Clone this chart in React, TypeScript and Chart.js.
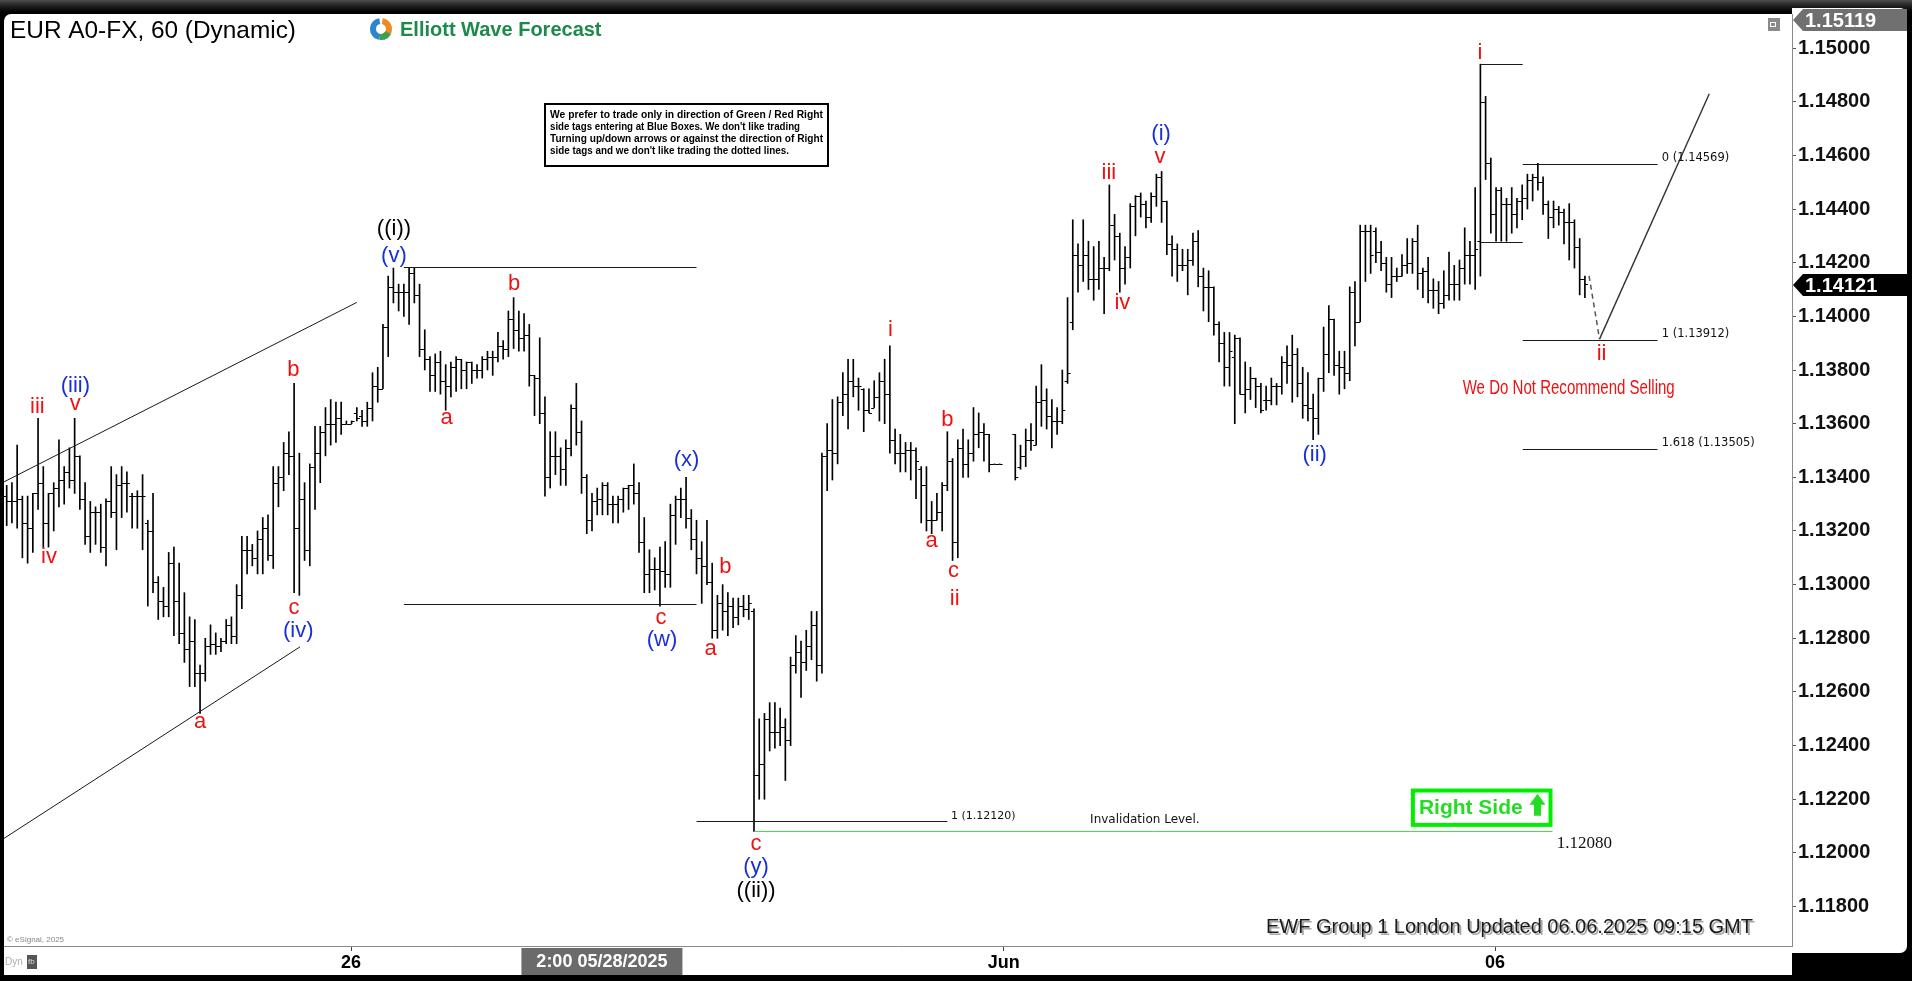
import React, { useEffect, useRef } from 'react';
import { Chart, registerables } from 'chart.js';

Chart.register(...registerables);

const W = 1912;
const H = 981;
const FONT = '"Liberation Sans", Arial, Helvetica, sans-serif';
const SERIF = '"Liberation Serif", "Times New Roman", serif';
const SMALL = '"DejaVu Sans", Verdana, Tahoma, sans-serif';
const RED = '#ee1111';
const BLUE = '#1a2fd6';
const BLACK = '#000000';
const GREEN = '#22dd22';

// ---------------- OHLC data (hourly bars, index 0 = first bar) ----------------
const highs: (number | null)[] = [
  1.1337,1.1338,1.1352,1.1333,1.1333,1.1334,1.1362,1.1344,1.1334,1.1338,
  1.1354,1.1344,1.1351,1.1362,1.1348,1.1338,1.1331,1.1329,1.1330,1.1332,
  1.1344,1.1341,1.1344,1.1342,1.1334,1.1335,1.1341,1.1324,1.1334,1.1303,
  1.1299,1.1312,1.1314,1.1308,1.1297,1.1288,1.1287,1.1270,1.1280,1.1285,
  1.1282,1.1280,1.1287,1.1288,1.1300,1.1318,1.1318,1.1315,1.1320,1.1325,
  1.1326,1.1344,1.1344,1.1353,1.1357,1.1375,1.1349,1.1338,1.1345,1.1359,
  1.1359,1.1366,1.1369,1.1368,1.1368,1.1361,1.1361,1.1366,1.1365,1.1368,
  1.1379,1.1381,1.1397,1.1415,1.1418,1.1412,1.1412,1.1418,1.1418,1.1412,
  1.1395,1.1385,1.1386,1.1387,1.1382,1.1383,1.1385,1.1384,1.1383,1.1383,
  1.1382,1.1385,1.1387,1.1387,1.1394,1.1391,1.1402,1.1407,1.1402,1.1401,
  1.1397,1.1378,1.1392,1.1370,1.1357,1.1357,1.1351,1.1354,1.1367,1.1375,
  1.1361,1.1341,1.1334,1.1336,1.1338,1.1338,1.1333,1.1333,1.1336,1.1337,
  1.1345,1.1338,1.1325,1.1313,1.1310,1.1314,1.1316,1.1330,1.1333,1.1336,
  1.1340,1.1328,1.1324,1.1316,1.1324,1.1308,1.1296,1.1300,1.1297,1.1295,
  1.1295,1.1296,1.1296,1.1291,1.1250,1.1252,1.1256,1.1256,1.1254,1.1250,
  1.1273,1.1281,1.1279,1.1283,1.1290,1.1290,1.1349,1.1360,1.1369,1.1370,
  1.1379,1.1384,1.1384,1.1377,1.1373,1.1373,1.1376,1.1379,1.1384,1.1389,
  1.1358,1.1356,1.1353,1.1353,1.1351,1.1344,1.1344,1.1331,1.1334,1.1338,
  1.1357,1.1347,1.1354,1.1358,1.1354,1.1366,1.1364,1.1360,1.1356,1.1345,
  1.1345,null,null,1.1356,1.1352,1.1358,1.1360,1.1374,1.1382,1.1373,
  1.1369,1.1366,1.1380,1.1407,1.1436,1.1427,1.1436,1.1428,1.1426,1.1428,
  1.1422,1.1449,1.1438,1.1431,1.1426,1.1442,1.1445,1.1446,1.1443,1.1446,
  1.1453,1.1454,1.1443,1.1430,1.1427,1.1425,1.1425,1.1431,1.1432,1.1418,
  1.1417,1.1411,1.1398,1.1394,1.1394,1.1393,1.1392,1.1383,1.1381,1.1377,
  1.1375,1.1374,1.1377,1.1375,1.1385,1.1389,1.1393,1.1388,1.1381,1.1379,
  1.1371,1.1377,1.1396,1.1404,1.1399,1.1387,1.1387,1.1411,1.1413,1.1434,
  1.1434,1.1434,1.1433,1.1428,1.1422,1.1422,1.1418,1.1423,1.1429,1.1429,
  1.1434,1.1418,1.1422,1.1414,1.1413,1.1417,1.1424,1.1419,1.1421,1.1433,
  1.1428,1.1448,1.1494,1.1482,1.1459,1.1448,1.1448,1.1444,1.1448,1.1444,
  1.1449,1.1453,1.1453,1.1457,1.1452,1.1443,1.1443,1.1441,1.1440,1.1442,
  1.1436,1.1429,1.1415,
];

const lows: (number | null)[] = [
  1.1322,1.1323,1.1321,1.1310,1.1308,1.1312,1.1328,1.1314,1.1314,1.1320,
  1.1329,1.1330,1.1336,1.1334,1.1328,1.1315,1.1312,1.1315,1.1312,1.1307,
  1.1325,1.1313,1.1325,1.1327,1.1321,1.1321,1.1313,1.1292,1.1297,1.1287,
  1.1288,1.1288,1.1281,1.1278,1.1271,1.1262,1.1262,1.1252,1.1264,1.1274,
  1.1274,1.1275,1.1278,1.1278,1.1278,1.1291,1.1304,1.1307,1.1304,1.1304,
  1.1309,1.1306,1.1329,1.1335,1.1341,1.1297,1.1296,1.1309,1.1307,1.1328,
  1.1338,1.1348,1.1352,1.1353,1.1356,1.1360,1.1360,1.1361,1.1359,1.1359,
  1.1361,1.1368,1.1373,1.1385,1.1405,1.1402,1.1400,1.1397,1.1405,1.1385,
  1.1380,1.1372,1.1372,1.1371,1.1365,1.1370,1.1372,1.1373,1.1373,1.1375,
  1.1377,1.1377,1.1380,1.1378,1.1383,1.1384,1.1385,1.1388,1.1387,1.1387,
  1.1374,1.1363,1.1360,1.1333,1.1336,1.1341,1.1337,1.1337,1.1348,1.1352,
  1.1334,1.1319,1.1320,1.1326,1.1326,1.1326,1.1323,1.1323,1.1327,1.1328,
  1.1330,1.1312,1.1297,1.1297,1.1298,1.1292,1.1299,1.1299,1.1315,1.1325,
  1.1321,1.1313,1.1304,1.1293,1.1300,1.1280,1.1280,1.1283,1.1281,1.1284,
  1.1285,1.1288,1.1287,1.1208,1.1220,1.1220,1.1238,1.1239,1.1240,1.1227,
  1.1240,1.1267,1.1258,1.1268,1.1272,1.1264,1.1267,1.1335,1.1339,1.1345,
  1.1363,1.1358,1.1370,1.1365,1.1357,1.1364,1.1366,1.1361,1.1360,1.1349,
  1.1345,1.1342,1.1342,1.1339,1.1332,1.1323,1.1320,1.1319,1.1324,1.1320,
  1.1335,1.1309,1.1310,1.1340,1.1340,1.1346,1.1351,1.1346,1.1342,1.1345,
  1.1345,null,null,1.1339,1.1343,1.1344,1.1350,1.1352,1.1359,1.1358,
  1.1351,1.1356,1.1360,1.1375,1.1395,1.1409,1.1413,1.1410,1.1406,1.1410,
  1.1401,1.1417,1.1421,1.1409,1.1412,1.1418,1.1430,1.1437,1.1433,1.1435,
  1.1441,1.1435,1.1423,1.1415,1.1413,1.1417,1.1408,1.1419,1.1411,1.1402,
  1.1398,1.1393,1.1383,1.1374,1.1374,1.1360,1.1371,1.1364,1.1369,1.1366,
  1.1364,1.1365,1.1367,1.1367,1.1371,1.1375,1.1368,1.1370,1.1362,1.1361,
  1.1354,1.1356,1.1372,1.1379,1.1378,1.1371,1.1373,1.1376,1.1389,1.1398,
  1.1413,1.1416,1.1420,1.1417,1.1409,1.1407,1.1413,1.1415,1.1416,1.1416,
  1.1410,1.1407,1.1405,1.1403,1.1401,1.1403,1.1406,1.1406,1.1406,1.1412,
  1.1412,1.1410,1.1415,1.1451,1.1431,1.1428,1.1428,1.1428,1.1431,1.1433,
  1.1436,1.1440,1.1443,1.1447,1.1438,1.1429,1.1433,1.1434,1.1427,1.1421,
  1.1418,1.1408,1.1407,
];

const opens: (number | null)[] = [
  1.1333,1.1331,1.1331,1.1332,1.1323,1.1321,1.1334,1.1338,1.1323,1.1334,
  1.1336,1.1339,1.1342,1.1339,1.1348,1.1332,1.1318,1.1327,1.1327,1.1314,
  1.1331,1.1327,1.1337,1.1338,1.1333,1.1333,1.1333,1.1323,1.1320,1.1301,
  1.1294,1.1292,1.1308,1.1294,1.1282,1.1276,1.1279,1.1267,1.1267,1.1277,
  1.1278,1.1277,1.1279,1.1285,1.1281,1.1296,1.1313,1.1313,1.1310,1.1317,
  1.1321,1.1311,1.1338,1.1340,1.1349,1.1348,1.1321,1.1332,1.1313,1.1344,
  1.1349,1.1357,1.1360,1.1360,1.1362,1.1360,1.1360,1.1364,1.1363,1.1361,
  1.1366,1.1374,1.1373,1.1396,1.1411,1.1409,1.1409,1.1409,1.1416,1.1408,
  1.1388,1.1384,1.1378,1.1383,1.1376,1.1374,1.1381,1.1384,1.1380,1.1383,
  1.1380,1.1380,1.1384,1.1385,1.1385,1.1389,1.1388,1.1399,1.1395,1.1392,
  1.1393,1.1378,1.1377,1.1364,1.1340,1.1348,1.1348,1.1343,1.1351,1.1366,
  1.1357,1.1340,1.1324,1.1331,1.1332,1.1337,1.1330,1.1330,1.1332,1.1336,
  1.1337,1.1334,1.1316,1.1304,1.1306,1.1306,1.1305,1.1304,1.1326,1.1332,
  1.1332,1.1325,1.1317,1.1310,1.1307,1.1301,1.1283,1.1293,1.1290,1.1292,
  1.1288,1.1292,1.1291,1.1290,1.1229,1.1233,1.1250,1.1245,1.1245,1.1247,
  1.1242,1.1270,1.1275,1.1271,1.1277,1.1285,1.1270,1.1348,1.1350,1.1349,
  1.1368,1.1371,1.1376,1.1374,1.1373,1.1365,1.1366,1.1370,1.1376,1.1371,
  1.1354,1.1349,1.1349,1.1350,1.1350,1.1343,1.1337,1.1324,1.1324,1.1327,
  1.1337,1.1346,1.1316,1.1351,1.1345,1.1349,1.1356,1.1357,1.1356,1.1345,
  1.1345,null,null,1.1356,1.1344,1.1348,1.1354,1.1352,1.1368,1.1369,
  1.1363,1.1361,1.1361,1.1376,1.1398,1.1423,1.1419,1.1423,1.1414,1.1414,
  1.1418,1.1418,1.1434,1.1430,1.1418,1.1422,1.1441,1.1445,1.1442,1.1437,
  1.1445,1.1452,1.1443,1.1427,1.1425,1.1419,1.1419,1.1421,1.1428,1.1415,
  1.1411,1.1411,1.1397,1.1390,1.1381,1.1385,1.1392,1.1371,1.1373,1.1377,
  1.1374,1.1369,1.1369,1.1374,1.1374,1.1383,1.1382,1.1386,1.1375,1.1367,
  1.1366,1.1362,1.1377,1.1386,1.1399,1.1382,1.1381,1.1379,1.1409,1.1398,
  1.1432,1.1432,1.1432,1.1424,1.1420,1.1412,1.1415,1.1415,1.1419,1.1420,
  1.1428,1.1416,1.1417,1.1410,1.1410,1.1405,1.1408,1.1412,1.1412,1.1418,
  1.1423,1.1423,1.1428,1.1480,1.1457,1.1438,1.1447,1.1442,1.1442,1.1438,
  1.1443,1.1444,1.1451,1.1452,1.1450,1.1442,1.1437,1.1440,1.1439,1.1435,
  1.1435,1.1426,1.1414,
];

const closes: (number | null)[] = [
  1.1331,1.1331,1.1332,1.1323,1.1321,1.1334,1.1338,1.1323,1.1334,1.1336,
  1.1339,1.1342,1.1339,1.1348,1.1332,1.1318,1.1327,1.1327,1.1314,1.1331,
  1.1327,1.1337,1.1338,1.1338,1.1333,1.1333,1.1333,1.1320,1.1301,1.1294,
  1.1292,1.1308,1.1294,1.1282,1.1276,1.1279,1.1267,1.1267,1.1277,1.1278,
  1.1277,1.1279,1.1285,1.1281,1.1296,1.1313,1.1313,1.1310,1.1317,1.1321,
  1.1311,1.1338,1.1340,1.1349,1.1348,1.1321,1.1332,1.1313,1.1344,1.1349,
  1.1357,1.1360,1.1360,1.1362,1.1360,1.1360,1.1361,1.1362,1.1361,1.1366,
  1.1374,1.1373,1.1396,1.1411,1.1409,1.1409,1.1409,1.1416,1.1408,1.1388,
  1.1384,1.1378,1.1383,1.1376,1.1374,1.1381,1.1384,1.1380,1.1383,1.1380,
  1.1380,1.1384,1.1385,1.1385,1.1389,1.1388,1.1399,1.1395,1.1392,1.1393,
  1.1378,1.1377,1.1364,1.1340,1.1348,1.1348,1.1343,1.1351,1.1366,1.1357,
  1.1340,1.1324,1.1331,1.1332,1.1337,1.1330,1.1330,1.1332,1.1336,1.1337,
  1.1334,1.1316,1.1304,1.1306,1.1306,1.1305,1.1304,1.1326,1.1332,1.1332,
  1.1325,1.1317,1.1310,1.1307,1.1301,1.1283,1.1293,1.1290,1.1292,1.1288,
  1.1292,1.1291,1.1293,1.1229,1.1233,1.1250,1.1245,1.1245,1.1247,1.1242,
  1.1270,1.1275,1.1271,1.1277,1.1285,1.1270,1.1348,1.1350,1.1349,1.1368,
  1.1371,1.1376,1.1374,1.1374,1.1365,1.1364,1.1370,1.1376,1.1371,1.1354,
  1.1349,1.1349,1.1350,1.1350,1.1346,1.1337,1.1324,1.1324,1.1327,1.1337,
  1.1346,1.1316,1.1351,1.1345,1.1349,1.1356,1.1357,1.1356,1.1345,1.1345,
  1.1345,null,null,1.1340,1.1348,1.1354,1.1354,1.1368,1.1369,1.1363,
  1.1361,1.1361,1.1365,1.1379,1.1423,1.1419,1.1423,1.1414,1.1414,1.1418,
  1.1418,1.1434,1.1430,1.1418,1.1422,1.1441,1.1445,1.1442,1.1437,1.1445,
  1.1452,1.1443,1.1427,1.1425,1.1419,1.1419,1.1421,1.1428,1.1415,1.1411,
  1.1411,1.1397,1.1390,1.1381,1.1387,1.1392,1.1371,1.1373,1.1377,1.1374,
  1.1365,1.1369,1.1374,1.1374,1.1383,1.1382,1.1386,1.1375,1.1367,1.1366,
  1.1362,1.1377,1.1386,1.1399,1.1382,1.1381,1.1379,1.1409,1.1398,1.1432,
  1.1432,1.1423,1.1424,1.1420,1.1412,1.1415,1.1415,1.1419,1.1420,1.1428,
  1.1416,1.1417,1.1410,1.1410,1.1405,1.1408,1.1412,1.1412,1.1418,1.1423,
  1.1423,1.1425,1.1480,1.1457,1.1438,1.1447,1.1442,1.1442,1.1438,1.1443,
  1.1444,1.1451,1.1452,1.1450,1.1442,1.1437,1.1440,1.1439,1.1435,1.1435,
  1.1426,1.1414,1.1412,
];

// ---------------- axes ----------------
const priceTicks = [1.118, 1.12, 1.122, 1.124, 1.126, 1.128, 1.13, 1.132, 1.134, 1.136, 1.138, 1.14, 1.142, 1.144, 1.146, 1.148, 1.15];
const timeTickValues = [65.9, 190.8, 284.8];
const timeTickLabels = ['26', 'Jun', '06'];
const cursorValue = 113.9;
const cursorText = '2:00 05/28/2025';
const sessionHigh = 1.15119;
const lastPrice = 1.14121;
const X_MIN = -0.517;
const X_MAX = 341.63;
const Y_MIN = 1.11653;
const Y_MAX = 1.15127;

// ---------------- annotations ----------------
const waveTexts = ['iii', 'v', '(iii)', 'iv', 'a', 'b', 'c', '(iv)', '((i))', '(v)', 'a', 'b', '(x)', 'c', '(w)', 'b', 'a', 'c', '(y)', '((ii))', 'i', 'b', 'a', 'c', 'ii', 'iii', 'iv', 'v', '(i)', '(ii)', 'i', 'ii'];
const waveColors = [RED, RED, BLUE, RED, RED, RED, RED, BLUE, BLACK, BLUE, RED, RED, BLUE, RED, BLUE, RED, RED, RED, BLUE, BLACK, RED, RED, RED, RED, RED, RED, RED, RED, BLUE, BLUE, RED, RED];
const waveX = [5.86, 13.14, 13.14, 8.1, 37, 54.85, 54.98, 55.8, 74.1, 74.1, 84.2, 97.1, 130.1, 125.2, 125.4, 137.5, 134.7, 143.4, 143.4, 143.4, 169.1, 180.0, 177.0, 181.2, 181.4, 210.9, 213.5, 220.7, 220.9, 250.3, 281.9, 305.2];
const waveY = [1.13663, 1.13673, 1.13741, 1.13105, 1.12489, 1.138, 1.12914, 1.12828, 1.14327, 1.14226, 1.13622, 1.14121, 1.13465, 1.12875, 1.12793, 1.13065, 1.12761, 1.12035, 1.11949, 1.11859, 1.1395, 1.13614, 1.13161, 1.13052, 1.12947, 1.14536, 1.14049, 1.14595, 1.14681, 1.13482, 1.1498, 1.13861];

type Seg = { x1: number; y1: number; x2: number; y2: number; color?: string; width?: number; dash?: number[] };
const segments: Seg[] = [
  { x1: -0.52, y1: 1.13383, x2: 67.0, y2: 1.14052 },
  { x1: -0.52, y1: 1.12054, x2: 56.12, y2: 1.12768 },
  { x1: 76.0, y1: 1.14185, x2: 132.0, y2: 1.14185 },
  { x1: 76.0, y1: 1.12928, x2: 132.0, y2: 1.12928 },
  { x1: 132.0, y1: 1.1212, x2: 180.0, y2: 1.1212 },
  { x1: 143.1, y1: 1.1208, x2: 295.8, y2: 1.1208, color: '#44e044' },
  { x1: 282.1, y1: 1.14942, x2: 290.1, y2: 1.14942 },
  { x1: 282.1, y1: 1.14278, x2: 290.1, y2: 1.14278 },
  { x1: 302.8, y1: 1.14151, x2: 304.8, y2: 1.13915, color: '#555', width: 1.5, dash: [5, 4] },
  { x1: 304.8, y1: 1.13915, x2: 325.8, y2: 1.1483, color: '#333', width: 1.4 },
];

const fibLabels = ['0 (1.14569)', '1 (1.13912)', '1.618 (1.13505)'];
const fibValues = [1.14569, 1.13912, 1.13505];
const fibFrom = 290.1;
const fibTo = 315.9;
const fibTextAt = 316.7;

const invalidationLevel = 1.1208;
const rightSideBox = { x1: 268.7, x2: 295.8, y1: 1.1224, y2: 1.12097 };

const noteLines = [
  'We prefer to trade only in direction of Green / Red Right',
  "side tags entering at Blue Boxes. We don't like trading",
  'Turning up/down arrows or against the direction of Right',
  "side tags and we don't like trading the dotted lines.",
];

// ---------------- helpers ----------------
function text(ctx: CanvasRenderingContext2D, s: string, x: number, y: number, font: string, color: string, align: CanvasTextAlign = 'left', baseline: CanvasTextBaseline = 'middle', maxW?: number) {
  ctx.font = font;
  ctx.fillStyle = color;
  ctx.textAlign = align;
  ctx.textBaseline = baseline;
  if (maxW) ctx.fillText(s, x, y, maxW);
  else ctx.fillText(s, x, y);
}

function rr(ctx: CanvasRenderingContext2D, x: number, y: number, w: number, h: number, r: number[]) {
  ctx.beginPath();
  if ((ctx as any).roundRect) (ctx as any).roundRect(x, y, w, h, r);
  else ctx.rect(x, y, w, h);
}

const backgroundPlugin = {
  id: 'panels',
  beforeDraw(chart: any) {
    const ctx = chart.ctx as CanvasRenderingContext2D;
    const a = chart.chartArea;
    ctx.save();
    ctx.fillStyle = '#000';
    ctx.fillRect(0, 0, W, H);
    const g = ctx.createLinearGradient(0, 0, 0, 12);
    g.addColorStop(0, '#505050');
    g.addColorStop(0.35, '#2a2a2a');
    g.addColorStop(1, '#000');
    ctx.fillStyle = g;
    ctx.fillRect(0, 0, W, 12);
    ctx.fillStyle = '#fff';
    rr(ctx, a.left, a.top, a.right - a.left, 975 - a.top, [7, 0, 0, 0]);
    ctx.fill();
    rr(ctx, a.right, 8, 1907 - a.right, 953 - 8, [0, 7, 7, 0]);
    ctx.fill();
    ctx.restore();
  },
};

const ohlcTicksPlugin = {
  id: 'ohlcTicks',
  afterDatasetsDraw(chart: any) {
    const ctx = chart.ctx as CanvasRenderingContext2D;
    const xs = chart.scales.x;
    const ys = chart.scales.y;
    ctx.save();
    ctx.strokeStyle = '#000';
    ctx.lineWidth = 1;
    ctx.beginPath();
    for (let i = 0; i < opens.length; i++) {
      const o = opens[i];
      const c = closes[i];
      if (o == null || c == null) continue;
      const x = xs.getPixelForValue(i);
      const yo = Math.round(ys.getPixelForValue(o)) + 0.5;
      const yc = Math.round(ys.getPixelForValue(c)) + 0.5;
      ctx.moveTo(x - 3, yo);
      ctx.lineTo(x, yo);
      ctx.moveTo(x, yc);
      ctx.lineTo(x + 3, yc);
    }
    ctx.stroke();
    ctx.restore();
  },
};

const annotationPlugin = {
  id: 'annotations',
  afterDatasetsDraw(chart: any) {
    const ctx = chart.ctx as CanvasRenderingContext2D;
    const xs = chart.scales.x;
    const ys = chart.scales.y;
    const X = (v: number) => xs.getPixelForValue(v);
    const Y = (v: number) => ys.getPixelForValue(v);
    const a = chart.chartArea;
    ctx.save();
    ctx.beginPath();
    ctx.rect(a.left, a.top, a.right - a.left, a.bottom - a.top);
    ctx.clip();

    // lines
    for (const s of segments) {
      ctx.beginPath();
      ctx.strokeStyle = s.color || '#1a1a1a';
      ctx.lineWidth = s.width || 1;
      ctx.setLineDash(s.dash || []);
      const horiz = s.y1 === s.y2;
      const y1 = horiz ? Math.round(Y(s.y1)) + 0.5 : Y(s.y1);
      const y2 = horiz ? Math.round(Y(s.y2)) + 0.5 : Y(s.y2);
      ctx.moveTo(X(s.x1), y1);
      ctx.lineTo(X(s.x2), y2);
      ctx.stroke();
    }
    ctx.setLineDash([]);

    // fib levels
    for (let k = 0; k < fibValues.length; k++) {
      const y = Math.round(Y(fibValues[k])) + 0.5;
      ctx.beginPath();
      ctx.strokeStyle = '#1a1a1a';
      ctx.lineWidth = 1;
      ctx.moveTo(X(fibFrom), y);
      ctx.lineTo(X(fibTo), y);
      ctx.stroke();
      text(ctx, fibLabels[k], X(fibTextAt), y - 6, `11.5px ${SMALL}`, '#111', 'left', 'middle');
    }

    // small notes
    text(ctx, '1 (1.12120)', X(180.7), Y(1.1212) - 5, `11px ${SMALL}`, '#111', 'left', 'middle');
    text(ctx, 'Invalidation Level.', X(217.8), Y(invalidationLevel) - 12, `12px ${SMALL}`, '#111', 'center', 'middle', 112);
    text(ctx, '1.12080', X(296.6), Y(invalidationLevel) + 12, `17px ${SERIF}`, '#111', 'left', 'middle');
    text(ctx, 'We Do Not Recommend Selling', X(298.9), Y(1.13732), `20px ${FONT}`, RED, 'center', 'middle', 212);

    // wave labels
    for (let k = 0; k < waveTexts.length; k++) {
      text(ctx, waveTexts[k], X(waveX[k]), Y(waveY[k]), `22px ${FONT}`, waveColors[k], 'center', 'middle');
    }

    // Right Side box
    const bx1 = X(rightSideBox.x1);
    const bx2 = X(rightSideBox.x2);
    const by1 = Y(rightSideBox.y1);
    const by2 = Y(rightSideBox.y2);
    ctx.fillStyle = '#fff';
    ctx.fillRect(bx1, by1, bx2 - bx1, by2 - by1);
    ctx.strokeStyle = '#00ee00';
    ctx.lineWidth = 4;
    ctx.strokeRect(bx1 + 2, by1 + 2, bx2 - bx1 - 4, by2 - by1 - 4);
    const cy = (by1 + by2) / 2;
    text(ctx, 'Right Side', bx1 + 8, cy + 1, `bold 21px ${FONT}`, GREEN, 'left', 'middle', 106);
    const ax = bx2 - 15;
    ctx.fillStyle = GREEN;
    ctx.beginPath();
    ctx.moveTo(ax, cy - 14);
    ctx.lineTo(ax - 8, cy - 3);
    ctx.lineTo(ax - 3.5, cy - 3);
    ctx.lineTo(ax - 3.5, cy + 8);
    ctx.lineTo(ax + 3.5, cy + 8);
    ctx.lineTo(ax + 3.5, cy - 3);
    ctx.lineTo(ax + 8, cy - 3);
    ctx.closePath();
    ctx.fill();
    ctx.restore();

    // static texts on the panel
    ctx.save();
    text(ctx, 'EUR A0-FX, 60 (Dynamic)', 10, 38, `24.4px ${FONT}`, '#000', 'left', 'alphabetic');
    // logo
    const lx = 381, ly = 29, r = 11;
    ctx.lineWidth = 6;
    ctx.beginPath(); ctx.strokeStyle = '#2c86cf'; ctx.arc(lx, ly, r - 3, Math.PI * 0.55, Math.PI * 1.45); ctx.stroke();
    ctx.beginPath(); ctx.strokeStyle = '#f08a24'; ctx.arc(lx, ly, r - 3, Math.PI * 1.55, Math.PI * 2.4); ctx.stroke();
    ctx.beginPath(); ctx.strokeStyle = '#3aa24f'; ctx.arc(lx, ly, r - 3, Math.PI * 0.15, Math.PI * 0.55); ctx.stroke();
    text(ctx, 'Elliott Wave Forecast', 400, 36, `bold 20px ${FONT}`, '#1d8a4c', 'left', 'alphabetic', 202);

    // note box
    ctx.fillStyle = '#fff';
    ctx.fillRect(544, 103, 285, 64);
    ctx.strokeStyle = '#000';
    ctx.lineWidth = 2;
    ctx.strokeRect(545, 104, 283, 62);
    const lineW = [273, 250, 273, 239];
    for (let k = 0; k < noteLines.length; k++) {
      text(ctx, noteLines[k], 550, 115 + k * 12, `bold 11.5px ${FONT}`, '#000', 'left', 'middle', lineW[k]);
    }

    // footer
    const footer = 'EWF Group 1 London Updated 06.06.2025 09:15 GMT';
    text(ctx, footer, 1755, 934.5, `20px ${FONT}`, '#a8a8a8', 'right', 'alphabetic', 488);
    text(ctx, footer, 1753, 933, `20px ${FONT}`, '#1a1a1a', 'right', 'alphabetic', 488);
    text(ctx, '\u00a9 eSignal, 2025', 7, 940, `8px ${FONT}`, '#888', 'left', 'middle');

    // small icon top right
    ctx.fillStyle = '#8a8a8a';
    ctx.fillRect(1768, 18, 12, 13);
    ctx.fillStyle = '#fff';
    ctx.fillRect(1770, 22, 6, 5);
    ctx.fillStyle = '#8a8a8a';
    ctx.fillRect(1771, 23, 4, 3);
    ctx.restore();
  },
};

const axisBoxesPlugin = {
  id: 'axisBoxes',
  afterDraw(chart: any) {
    const ctx = chart.ctx as CanvasRenderingContext2D;
    const xs = chart.scales.x;
    const ys = chart.scales.y;
    const a = chart.chartArea;
    ctx.save();
    const tag = (value: number, bg: string, minCy: number) => {
      const cy = Math.max(Math.round(ys.getPixelForValue(value)) + 1, minCy);
      const x0 = a.right;
      ctx.fillStyle = bg;
      ctx.beginPath();
      ctx.moveTo(x0 + 1, cy);
      ctx.lineTo(x0 + 11, cy - 11);
      ctx.lineTo(1907, cy - 11);
      ctx.lineTo(1907, cy + 11);
      ctx.lineTo(x0 + 11, cy + 11);
      ctx.closePath();
      ctx.fill();
      text(ctx, value.toFixed(5), x0 + 13, cy + 1, `bold 20px ${FONT}`, '#fff', 'left', 'middle');
    };
    tag(sessionHigh, '#707070', 20);
    tag(lastPrice, '#000', 0);

    // cursor time label on x axis
    const cx = xs.getPixelForValue(cursorValue);
    const bw = 161;
    ctx.fillStyle = '#6b6b6b';
    ctx.fillRect(cx - bw / 2, a.bottom + 2, bw, 27);
    text(ctx, cursorText, cx, a.bottom + 16, `bold 18px ${FONT}`, '#fff', 'center', 'middle');

    // Dyn marker
    text(ctx, 'Dyn', 5, 962, `10px ${FONT}`, '#b0b0b0', 'left', 'middle');
    ctx.fillStyle = '#555';
    ctx.fillRect(27, 955, 10, 14);
    text(ctx, 'fb', 28, 962, `8px ${FONT}`, '#ddd', 'left', 'middle');
    ctx.restore();
  },
};

export default function App() {
  const ref = useRef<HTMLCanvasElement>(null);
  useEffect(() => {
    document.body.style.margin = '0';
    document.body.style.background = '#000';
    document.body.style.overflow = 'hidden';
    const canvas = ref.current;
    if (!canvas) return;
    const rangeData = highs
      .map((h, i) => (h == null || lows[i] == null ? null : { x: i, y: [lows[i] as number, h] }))
      .filter((d) => d !== null) as any[];
    const chart = new Chart(canvas, {
      type: 'bar',
      data: {
        datasets: [
          {
            label: 'EUR A0-FX',
            data: rangeData,
            backgroundColor: '#000',
            borderWidth: 0,
            barThickness: 1,
            grouped: false,
          } as any,
        ],
      },
      options: {
        animation: false,
        responsive: false,
        devicePixelRatio: 1,
        events: [],
        layout: { padding: { left: 4, top: 13, right: 5, bottom: 6 } },
        plugins: {
          legend: { display: false },
          tooltip: { enabled: false },
          title: { display: false },
        },
        scales: {
          x: {
            type: 'linear',
            min: X_MIN,
            max: X_MAX,
            offset: false,
            afterBuildTicks: (s: any) => {
              s.ticks = timeTickValues.map((v) => ({ value: v }));
            },
            afterFit: (s: any) => {
              s.height = 29;
            },
            ticks: {
              autoSkip: false,
              maxRotation: 0,
              padding: 1,
              color: '#000',
              font: { family: FONT, size: 18, weight: 'bold' },
              callback: (_v: any, i: number) => timeTickLabels[i] ?? '',
            },
            grid: { offset: false, drawOnChartArea: false, drawTicks: true, tickLength: 5, color: '#444' },
            border: { display: true, color: '#8a8a8a' },
          },
          y: {
            type: 'linear',
            position: 'right',
            min: Y_MIN,
            max: Y_MAX,
            afterBuildTicks: (s: any) => {
              s.ticks = priceTicks.map((v) => ({ value: v }));
            },
            afterFit: (s: any) => {
              s.width = 115;
            },
            ticks: {
              padding: 2,
              color: '#111',
              font: { family: FONT, size: 20, weight: 'bold' },
              callback: (v: any) => Number(v).toFixed(5),
            },
            grid: { offset: false, drawOnChartArea: false, drawTicks: true, tickLength: 4, color: '#555' },
            border: { display: true, color: '#8a8a8a' },
          },
        } as any,
      },
      plugins: [backgroundPlugin, ohlcTicksPlugin, annotationPlugin, axisBoxesPlugin],
    } as any);
    return () => chart.destroy();
  }, []);
  return (
    <div style={{ position: 'fixed', left: 0, top: 0, width: W, height: H, background: '#000' }}>
      <canvas ref={ref} width={W} height={H} style={{ display: 'block', width: W, height: H }} />
    </div>
  );
}
